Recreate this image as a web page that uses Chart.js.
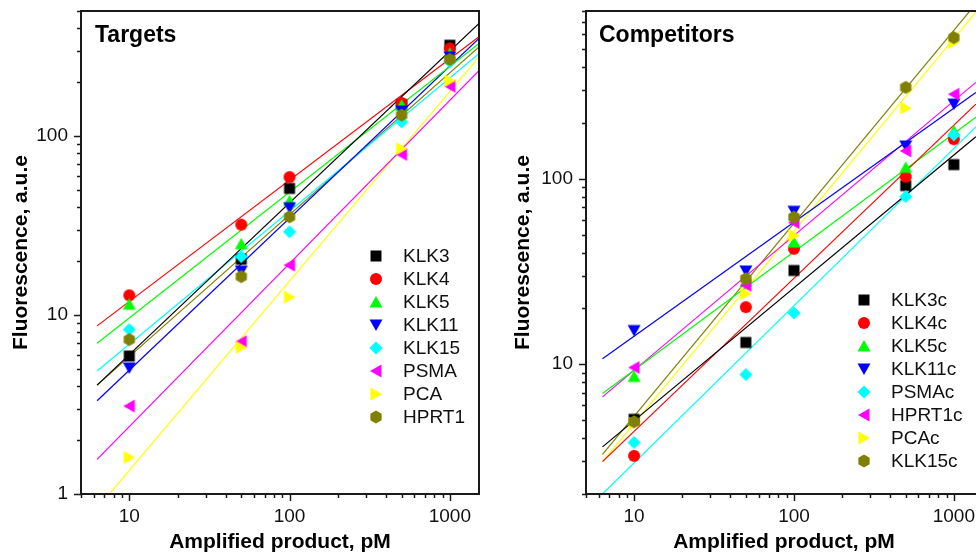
<!DOCTYPE html>
<html>
<head>
<meta charset="utf-8">
<title>Fluorescence vs amplified product</title>
<script src="https://cdn.jsdelivr.net/npm/chart.js@4.4.0/dist/chart.umd.min.js"></script>
<style>
  html, body { margin: 0; padding: 0; background: #fff; overflow: hidden; }
  #targetsChart { position: absolute; left: 0; top: 0; }
  #competitorsChart { position: absolute; left: 490px; top: 0; }
</style>
</head>
<body>
<canvas id="targetsChart" width="490" height="555"></canvas>
<canvas id="competitorsChart" width="500" height="555"></canvas>
<script>
// amplified product concentrations, pM
const concentrations = [10, 50, 100, 500, 1000];

// targets: measured fluorescence
const targetNames = ['KLK3', 'KLK4', 'KLK5', 'KLK11', 'KLK15', 'PSMA', 'PCA', 'HPRT1'];
const klk3 = [5.9, 20.5, 51, 150, 322];
const klk4 = [12.9, 32, 59, 153, 309];
const klk5 = [11.5, 25, 43.5, 149, 290];
const klk11 = [5.06, 17.6, 39.8, 138, 277];
const klk15 = [8.3, 21.2, 29.2, 120, 260];
const psma = [3.1, 7.1, 19, 79, 190];
const pca = [1.6, 6.6, 12.6, 85, 204];
const hprt1 = [7.3, 16.4, 35.4, 131, 268];

// targets: fitted lines (start and end values)
const targetFitX = [6.3, 1520];
const klk3Fit = [4.06, 426];
const klk4Fit = [8.7, 359];
const klk5Fit = [6.95, 329];
const klk11Fit = [3.32, 351];
const klk15Fit = [4.87, 289];
const psmaFit = [1.56, 232];
const pcaFit = [0.83, 276];
const hprt1Fit = [4.06, 315];

// competitors: measured fluorescence
const competitorNames = ['KLK3c', 'KLK4c', 'KLK5c', 'KLK11c', 'PSMAc', 'HPRT1c', 'PCAc', 'KLK15c'];
const klk3c = [5.05, 13.1, 32, 91.7, 119];
const klk4c = [3.21, 20.3, 41.9, 102.5, 163];
const klk5c = [8.6, 28, 45.5, 115, 181];
const klk11c = [15.2, 31.8, 66.7, 150, 252];
const psmac = [3.79, 8.8, 18.9, 80, 172];
const hprt1c = [9.6, 26.6, 58, 141, 285];
const pcac = [4.8, 24, 49.4, 240, 541];
const klk15c = [4.9, 28.9, 62, 310, 575];

// competitors: fitted lines
const competitorFitX = [6.34, 1373];
const klk3cFit = [3.59, 168];
const klk4cFit = [2.99, 252];
const klk5cFit = [6.95, 214];
const klk11cFit = [10.7, 291];
const psmacFit = [2.0, 190];
const hprt1cFit = [6.67, 330];
const pcacFit = [2.99, 790];
const klk15cFit = [3.27, 875];

// axis ticks
const xTickLabels = [10, 100, 1000];
const targetYTicks = [1, 10, 100];
const competitorYTicks = [10, 100];

const AXIS_COLOR = '#1a1a1a';
const FONT = "'Liberation Sans', Arial, sans-serif";

function makeMarker(shape, color) {
  const c = document.createElement('canvas');
  c.width = 16; c.height = 16;
  const g = c.getContext('2d');
  g.translate(8, 8);
  g.fillStyle = color;
  g.beginPath();
  const poly = pts => { g.moveTo(pts[0][0], pts[0][1]); pts.slice(1).forEach(p => g.lineTo(p[0], p[1])); g.closePath(); };
  if (shape === 'square') g.rect(-5.5, -5.5, 11, 11);
  else if (shape === 'circle') g.arc(0, 0, 6, 0, Math.PI * 2);
  else if (shape === 'up') poly([[0, -6], [6.5, 5.5], [-6.5, 5.5]]);
  else if (shape === 'down') poly([[0, 6], [6.5, -5.5], [-6.5, -5.5]]);
  else if (shape === 'left') poly([[-6, 0], [5.5, -6.5], [5.5, 6.5]]);
  else if (shape === 'right') poly([[6, 0], [-5.5, -6.5], [-5.5, 6.5]]);
  else if (shape === 'diamond') poly([[0, -6.6], [6.6, 0], [0, 6.6], [-6.6, 0]]);
  else if (shape === 'hexagon') {
    const pts = [];
    for (let i = 0; i < 6; i++) {
      const a = -Math.PI / 2 + i * Math.PI / 3;
      pts.push([6.5 * Math.cos(a), 6.5 * Math.sin(a)]);
    }
    poly(pts);
  }
  g.fill();
  return c;
}

function buildDatasets(names, values, fits, fitX, colors, shapes) {
  const sets = [];
  // later series are drawn on top (lower order = drawn last)
  names.forEach((name, i) => {
    sets.push({
      label: name,
      data: concentrations.map((x, j) => ({ x: x, y: values[i][j] })),
      pointStyle: makeMarker(shapes[i], colors[i]),
      pointRadius: 6,
      showLine: false,
      order: 10 - i
    });
  });
  names.forEach((name, i) => {
    sets.push({
      label: name + ' fit',
      data: fitX.map((x, j) => ({ x: x, y: fits[i][j] })),
      borderColor: colors[i],
      borderWidth: 1.2,
      pointRadius: 0,
      showLine: true,
      order: 20
    });
  });
  return sets;
}

const decorPlugin = {
  id: 'decor',
  afterDraw(chart, args, opts) {
    const ctx = chart.ctx;
    const a = chart.chartArea;
    const xs = chart.scales.x, ys = chart.scales.y;
    ctx.save();
    ctx.strokeStyle = AXIS_COLOR;
    ctx.lineWidth = 2;
    ctx.strokeRect(a.left, a.top, a.right - a.left, a.bottom - a.top);

    // log tick marks
    ctx.lineWidth = 1.5;
    ctx.beginPath();
    for (let d = 1; d <= 1000; d *= 10) {
      for (let k = 1; k <= 9; k++) {
        const v = k * d;
        const len = k === 1 ? 7 : 4;
        if (v >= xs.min && v <= xs.max) {
          const px = Math.round(xs.getPixelForValue(v)) + 0.5;
          ctx.moveTo(px, a.bottom);
          ctx.lineTo(px, a.bottom + len);
        }
        if (v >= ys.min && v <= ys.max) {
          const py = Math.round(ys.getPixelForValue(v)) + 0.5;
          ctx.moveTo(a.left, py);
          ctx.lineTo(a.left - len, py);
        }
      }
    }
    ctx.stroke();

    // panel title
    ctx.fillStyle = '#000';
    ctx.font = 'bold 23px ' + FONT;
    ctx.textBaseline = 'middle';
    ctx.textAlign = 'left';
    ctx.fillText(opts.title, opts.titleX, 36);

    // legend
    ctx.font = '19px ' + FONT;
    opts.names.forEach((name, i) => {
      const y = opts.legendY + i * 23;
      const m = makeMarker(opts.shapes[i], opts.colors[i]);
      ctx.drawImage(m, opts.legendX - 8, y - 8);
      ctx.fillStyle = '#111';
      ctx.fillText(name, opts.legendX + 27, y + 1);
    });
    ctx.restore();
  }
};

function makeChart(canvasId, cfg) {
  return new Chart(document.getElementById(canvasId), {
    type: 'scatter',
    data: { datasets: buildDatasets(cfg.names, cfg.values, cfg.fits, cfg.fitX, cfg.colors, cfg.shapes) },
    plugins: [decorPlugin],
    options: {
      responsive: false,
      animation: false,
      events: [],
      layout: { padding: { top: 11, right: cfg.rightPad, left: 0, bottom: 0 } },
      plugins: {
        legend: { display: false },
        tooltip: { enabled: false },
        decor: {
          title: cfg.title, titleX: cfg.titleX,
          names: cfg.names, colors: cfg.colors, shapes: cfg.shapes,
          legendX: cfg.legendX, legendY: cfg.legendY
        }
      },
      scales: {
        x: {
          type: 'logarithmic',
          min: 5,
          max: cfg.xMax,
          grid: { display: false, drawTicks: false },
          border: { display: false },
          afterBuildTicks: s => { s.ticks = xTickLabels.map(v => ({ value: v })); },
          afterFit: s => { s.height = 61; s.paddingLeft = 0; s.paddingRight = 0; },
          ticks: {
            autoSkip: false, maxRotation: 0, padding: 11,
            color: '#111', font: { family: FONT, size: 19 },
            callback: v => String(v)
          },
          title: {
            display: true, text: 'Amplified product, pM', color: '#000',
            font: { family: FONT, size: 21, weight: 'bold' },
            padding: { top: 0, bottom: 0 }
          }
        },
        y: {
          type: 'logarithmic',
          min: cfg.yMin,
          max: cfg.yMax,
          grid: { display: false, drawTicks: false },
          border: { display: false },
          afterBuildTicks: s => { s.ticks = cfg.yTicks.map(v => ({ value: v })); },
          afterFit: s => { s.width = cfg.yAxisWidth; s.paddingTop = 0; s.paddingBottom = 0; },
          ticks: {
            autoSkip: false, padding: 13,
            color: '#111', font: { family: FONT, size: 19 },
            callback: v => String(v)
          },
          title: {
            display: true, text: 'Fluorescence, a.u.e', color: '#000',
            font: { family: FONT, size: 21, weight: 'bold' },
            padding: { top: cfg.yTitlePad, bottom: 0 }
          }
        }
      }
    }
  });
}

const targetColors = ['#000000', '#ff0000', '#00ff00', '#0000ff', '#00ffff', '#ff00ff', '#ffff00', '#808000'];
const targetShapes = ['square', 'circle', 'up', 'down', 'diamond', 'left', 'right', 'hexagon'];
const competitorColors = ['#000000', '#ff0000', '#00ff00', '#0000ff', '#00ffff', '#ff00ff', '#ffff00', '#808000'];
const competitorShapes = ['square', 'circle', 'up', 'down', 'diamond', 'left', 'right', 'hexagon'];

makeChart('targetsChart', {
  names: targetNames,
  values: [klk3, klk4, klk5, klk11, klk15, psma, pca, hprt1],
  fits: [klk3Fit, klk4Fit, klk5Fit, klk11Fit, klk15Fit, psmaFit, pcaFit, hprt1Fit],
  fitX: targetFitX,
  colors: targetColors, shapes: targetShapes,
  title: 'Targets', titleX: 95,
  legendX: 376, legendY: 256,
  xMax: 1520, yMin: 1, yMax: 500, yTicks: targetYTicks,
  yAxisWidth: 81, yTitlePad: 9, rightPad: 11
});

makeChart('competitorsChart', {
  names: competitorNames,
  values: [klk3c, klk4c, klk5c, klk11c, psmac, hprt1c, pcac, klk15c],
  fits: [klk3cFit, klk4cFit, klk5cFit, klk11cFit, psmacFit, hprt1cFit, pcacFit, klk15cFit],
  fitX: competitorFitX,
  colors: competitorColors, shapes: competitorShapes,
  title: 'Competitors', titleX: 109,
  legendX: 374, legendY: 300,
  xMax: 1500, yMin: 2, yMax: 800, yTicks: competitorYTicks,
  yAxisWidth: 96, yTitlePad: 21, rightPad: 8
});
</script>
</body>
</html>
